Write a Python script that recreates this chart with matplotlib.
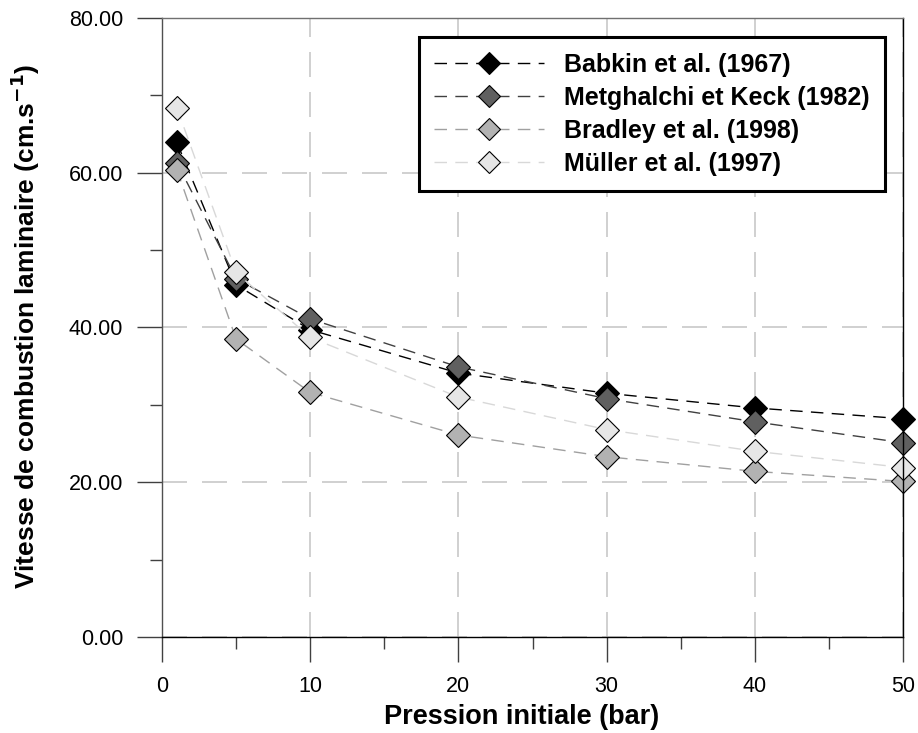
import matplotlib
matplotlib.use('Agg')
import matplotlib.pyplot as plt
from matplotlib import font_manager
from matplotlib.ticker import MultipleLocator, FormatStrFormatter

names = set(f.name for f in font_manager.fontManager.ttflist)
narrow = 'Liberation Sans Narrow' if 'Liberation Sans Narrow' in names else 'Liberation Sans'
plt.rcParams['font.family'] = ['Liberation Sans', 'DejaVu Sans']

# pression initiale (bar)
pression = [1, 5, 10, 20, 30, 40, 50]

babkin = [63.9, 45.5, 39.7, 34.1, 31.5, 29.6, 28.2]
metghalchi = [61.3, 46.3, 41.1, 34.9, 30.8, 27.8, 25.1]
bradley = [60.4, 38.5, 31.6, 26.1, 23.3, 21.4, 20.1]
muller = [68.4, 47.1, 38.7, 31.0, 26.8, 24.0, 21.9]

labels = ['Babkin et al. (1967)', 'Metghalchi et Keck (1982)',
          'Bradley et al. (1998)', 'Müller et al. (1997)']
line_colors = ['#000000', '#404040', '#a0a0a0', '#d8d8d8']
fill_colors = ['#000000', '#606060', '#b2b2b2', '#e6e6e6']

fig = plt.figure(figsize=(9.18, 7.33), dpi=100)
ax = fig.add_axes([0.1765, 0.131, 0.8072, 0.8446])

series = [babkin, metghalchi, bradley, muller]
for ys, lab, lc, fc in zip(series, labels, line_colors, fill_colors):
    ax.plot(pression, ys, color=lc, linestyle=(0, (9, 6)), linewidth=1,
            marker='D', markersize=12, markerfacecolor=fc,
            markeredgecolor='black', markeredgewidth=0.8, label=lab,
            clip_on=False)

ax.set_xlim(0, 50)
ax.set_ylim(0, 80)
ax.xaxis.set_major_locator(MultipleLocator(10))
ax.xaxis.set_minor_locator(MultipleLocator(5))
ax.yaxis.set_major_locator(MultipleLocator(20))
ax.yaxis.set_minor_locator(MultipleLocator(10))
ax.yaxis.set_major_formatter(FormatStrFormatter('%.2f'))

ax.tick_params(which='major', direction='out', length=18, width=1,
               color='#404040', labelsize=15.5, pad=10)
ax.tick_params(which='minor', direction='out', length=8.6, width=1,
               color='#404040')

ax.grid(True, which='major', color='#c8c8c8', linestyle=(0, (15, 9)),
        linewidth=1.2)
ax.set_axisbelow(True)

ax.spines['left'].set_color('#505050')
ax.spines['top'].set_color('#707070')
ax.spines['right'].set_color('black')
ax.spines['bottom'].set_color('black')
for s in ax.spines.values():
    s.set_linewidth(1)

ax.set_xlabel('Pression initiale (bar)', fontsize=19.5, fontweight='bold')
ax.xaxis.set_label_coords(0.485, -0.108)
ax.set_ylabel('Vitesse de combustion laminaire (cm.s$^{\\mathbf{-1}}$)',
              fontsize=19, fontweight='bold', family=narrow)
ax.yaxis.set_label_coords(-0.185, 0.502)
ax.yaxis.label.set_verticalalignment('center')

leg = ax.legend(loc='upper right', bbox_to_anchor=(0.976, 0.969),
                borderaxespad=0, fancybox=False, edgecolor='black',
                prop={'weight': 'bold', 'size': 18}, handlelength=4.4,
                labelspacing=0.36, handletextpad=0.8, borderpad=0.62,
                markerscale=0.92, framealpha=1)
leg.get_frame().set_linewidth(2.2)

fig.savefig('out.png', dpi=100)
